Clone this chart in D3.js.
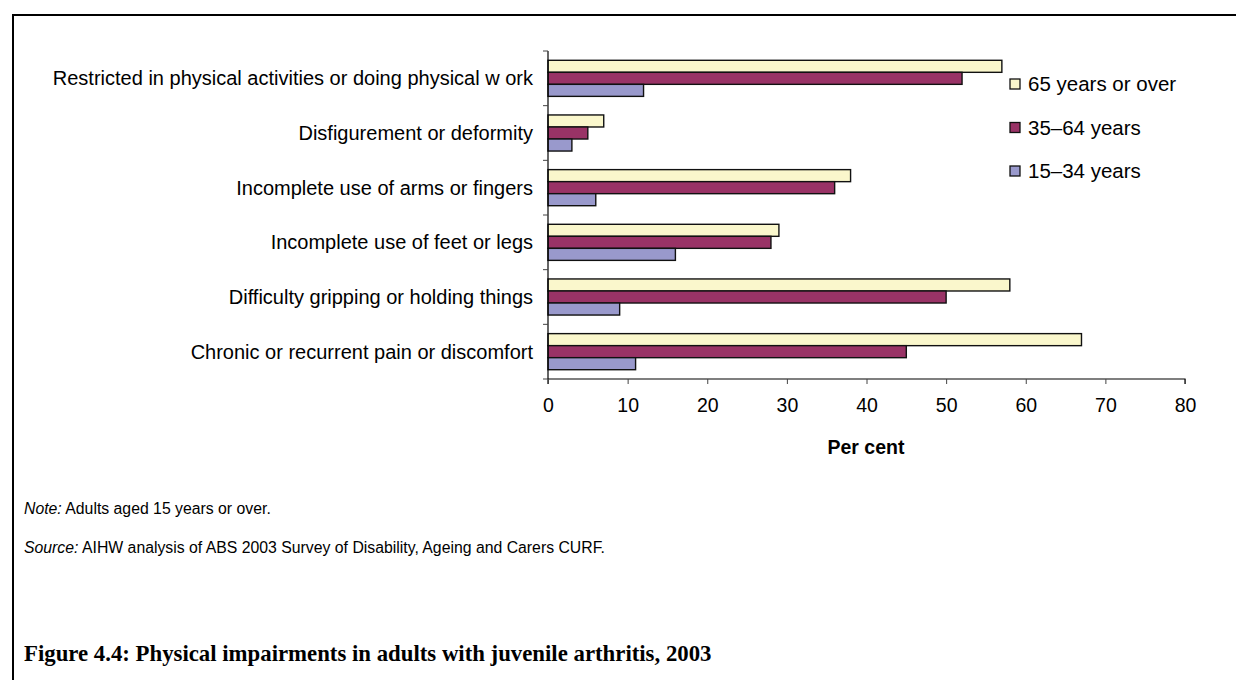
<!DOCTYPE html>
<html><head><meta charset="utf-8">
<script src="https://cdn.jsdelivr.net/npm/d3@7"></script>
<style>body{margin:0;background:#fff}svg{display:block}</style>
</head><body>
<script>
const categories = [
  "Restricted in physical activities or doing physical w ork",
  "Disfigurement or deformity",
  "Incomplete use of arms or fingers",
  "Incomplete use of feet or legs",
  "Difficulty gripping or holding things",
  "Chronic or recurrent pain or discomfort"
];
const seriesNames = ["65 years or over", "35\u201364 years", "15\u201334 years"];
const s65 = [57, 7, 38, 29, 58, 67];
const s35 = [52, 5, 36, 28, 50, 45];
const s15 = [12, 3, 6, 16, 9, 11];
const xTicks = [0, 10, 20, 30, 40, 50, 60, 70, 80];
const colors = ["#FAF7CC", "#993366", "#9999CC"];

const W = 1236, H = 680;
const svg = d3.select("body").append("svg").attr("width", W).attr("height", H);
const font = "Liberation Sans, Arial, sans-serif";
const fs = 20;

// frame
svg.append("path").attr("d", `M13,680 V15 H1236`).attr("fill", "none").attr("stroke", "#000").attr("stroke-width", 2);

const x = d3.scaleLinear().domain([0, 80]).range([548, 1185]);
const y = d3.scaleBand().domain(categories).range([51, 379]).paddingInner(0.34).paddingOuter(0.17);
const ySub = d3.scaleBand().domain([0, 1, 2]).range([0, y.bandwidth()]);
const series = [s65, s35, s15];

const g = svg.append("g");
series.forEach((vals, si) => {
  g.selectAll(null).data(categories).enter().append("rect")
    .attr("x", x(0))
    .attr("y", (c) => y(c) + ySub(si))
    .attr("width", (c, i) => x(vals[i]) - x(0))
    .attr("height", ySub.bandwidth())
    .attr("fill", colors[si])
    .attr("stroke", "#111").attr("stroke-width", 1.4);
});

// x axis
const xa = svg.append("g").attr("transform", "translate(0,379)")
  .call(d3.axisBottom(x).tickValues(xTicks).tickSize(5).tickPadding(14));
xa.select(".domain").attr("stroke", "#000").attr("stroke-width", 1.2).attr("d", `M${x(0)},5V0H${x(80)}V5`);
xa.selectAll(".tick line").attr("stroke", "#444");
xa.selectAll("text").attr("font-family", font).attr("font-size", 19.5).attr("fill", "#000");

// y axis
const yEdges = d3.range(categories.length + 1).map(i => 51 + i * (328 / categories.length));
svg.append("line").attr("x1", x(0)).attr("x2", x(0)).attr("y1", 51).attr("y2", 379).attr("stroke", "#000").attr("stroke-width", 1.2);
svg.selectAll(null).data(yEdges).enter().append("line")
  .attr("x1", x(0) - 5).attr("x2", x(0)).attr("y1", d => d).attr("y2", d => d)
  .attr("stroke", "#444");
svg.selectAll(null).data(categories).enter().append("text")
  .attr("x", 533).attr("y", c => y(c) + y.bandwidth() / 2)
  .attr("dy", "0.35em").attr("text-anchor", "end")
  .attr("font-family", font).attr("font-size", fs).text(c => c);

svg.append("text").attr("x", 866).attr("y", 454).attr("text-anchor", "middle")
  .attr("font-family", font).attr("font-size", 19.5).attr("font-weight", "bold").text("Per cent");

// legend
const leg = svg.append("g");
seriesNames.forEach((n, i) => {
  const yy = 84 + i * 43.5;
  leg.append("rect").attr("x", 1010).attr("y", yy - 5).attr("width", 10).attr("height", 10)
    .attr("fill", colors[i]).attr("stroke", "#111").attr("stroke-width", 1.3);
  leg.append("text").attr("x", 1028).attr("y", yy).attr("dy", "0.35em")
    .attr("font-family", font).attr("font-size", 20.5).text(n);
});

// notes
const note = svg.append("text").attr("x", 24).attr("y", 514).attr("font-family", font).attr("font-size", 15.8);
note.append("tspan").attr("font-style", "italic").text("Note:");
note.append("tspan").text(" Adults aged 15 years or over.");
const src = svg.append("text").attr("x", 24).attr("y", 553).attr("font-family", font).attr("font-size", 15.8);
src.append("tspan").attr("font-style", "italic").text("Source:");
src.append("tspan").text(" AIHW analysis of ABS 2003 Survey of Disability, Ageing and Carers CURF.");

const title = svg.append("text").attr("x", 24).attr("y", 661).attr("font-family", "Liberation Serif, Times New Roman, serif")
  .attr("font-size", 20).attr("font-weight", "bold").text("Figure 4.4: Physical impairments in adults with juvenile arthritis, 2003");
const tw = title.node().getComputedTextLength();
title.attr("font-size", 20 * 688 / tw);
</script>
</body></html>
